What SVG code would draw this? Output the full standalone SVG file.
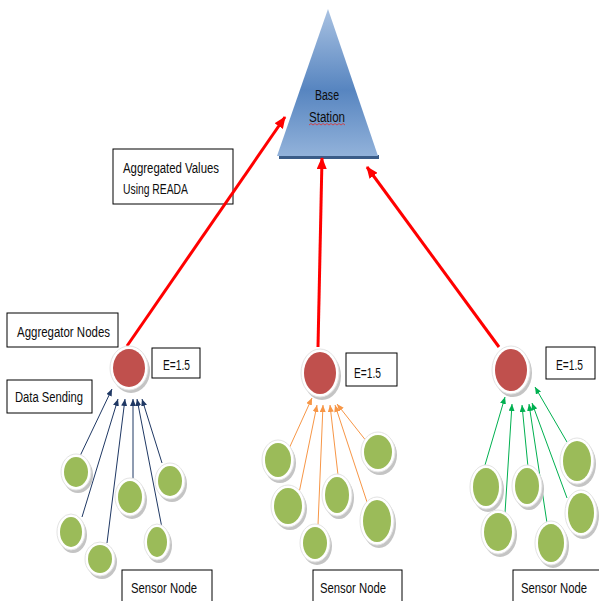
<svg xmlns="http://www.w3.org/2000/svg" width="599" height="601" viewBox="0 0 599 601">
<style>
.lbl{font-family:"Liberation Sans",Arial,sans-serif;font-size:14px;fill:#0d0d0d}
.box{fill:#fff;stroke:#000;stroke-width:1}
.red{stroke:#ff0000;stroke-width:3;fill:none}
.sh{fill:#c4c4c4}
.rim{fill:#fff;stroke:#e3e3e3;stroke-width:1}
.grn{fill:#9bbb59}
.agg{fill:#c0504d}
.navy{stroke:#1f3864;stroke-width:1;fill:none}
.org{stroke:#f79646;stroke-width:1;fill:none}
.gr{stroke:#00b050;stroke-width:1;fill:none}
</style>
<defs>
<linearGradient id="tri" x1="0" y1="0" x2="0" y2="1">
<stop offset="0" stop-color="#a9c2e2"/>
<stop offset="0.55" stop-color="#5785c0"/>
<stop offset="1" stop-color="#92b2da"/>
</linearGradient>
<marker id="mr" markerUnits="userSpaceOnUse" markerWidth="12" markerHeight="10" refX="11" refY="5" orient="auto"><path d="M0,0 L12,5 L0,10 z" fill="#ff0000"/></marker>
<marker id="mn" markerUnits="userSpaceOnUse" markerWidth="7" markerHeight="6" refX="7" refY="3" orient="auto"><path d="M0,0 L7,3 L0,6 z" fill="#1f3864"/></marker>
<marker id="mo" markerUnits="userSpaceOnUse" markerWidth="7" markerHeight="6" refX="7" refY="3" orient="auto"><path d="M0,0 L7,3 L0,6 z" fill="#f79646"/></marker>
<marker id="mg" markerUnits="userSpaceOnUse" markerWidth="7" markerHeight="6" refX="7" refY="3" orient="auto"><path d="M0,0 L7,3 L0,6 z" fill="#00b050"/></marker>
</defs>
<rect width="599" height="601" fill="#fff"/>

<g id="base-station">
<rect x="279" y="155" width="100" height="4" fill="#3a5c88"/>
<polygon points="328,9 277,156 378,156" fill="url(#tri)"/>
<text class="lbl" x="327" y="100" text-anchor="middle" textLength="24" lengthAdjust="spacingAndGlyphs">Base</text>
<text class="lbl" x="327" y="122" text-anchor="middle" textLength="36" lengthAdjust="spacingAndGlyphs">Station</text>
<path d="M309,125 l2,-1.5 l2,1.5 l2,-1.5 l2,1.5 l2,-1.5 l2,1.5 l2,-1.5 l2,1.5 l2,-1.5 l2,1.5 l2,-1.5 l2,1.5 l2,-1.5 l2,1.5 l2,-1.5 l2,1.5 l2,-1.5 l2,1.5" stroke="#e03030" stroke-width="0.8" fill="none"/>
</g>

<g id="label-aggregated-values">
<rect class="box" x="113" y="149" width="120" height="55"/>
<text class="lbl" x="123" y="173" textLength="96" lengthAdjust="spacingAndGlyphs">Aggregated Values</text>
<text class="lbl" x="123" y="194" textLength="65" lengthAdjust="spacingAndGlyphs">Using READA</text>
</g>

<g id="label-aggregator-nodes">
<rect class="box" x="7" y="313" width="111" height="34"/>
<text class="lbl" x="17" y="337" textLength="93" lengthAdjust="spacingAndGlyphs">Aggregator Nodes</text>
</g>
<g id="label-data-sending">
<rect class="box" x="7" y="380" width="85" height="33"/>
<text class="lbl" x="15" y="402" textLength="68" lengthAdjust="spacingAndGlyphs">Data Sending</text>
</g>

<g id="connectors">
<line class="red" x1="127" y1="346" x2="285" y2="117" marker-end="url(#mr)"/>
<line class="red" x1="318" y1="347" x2="322" y2="158" marker-end="url(#mr)"/>
<line class="red" x1="499" y1="347" x2="367" y2="167" marker-end="url(#mr)"/>

<line class="navy" x1="80" y1="456" x2="112" y2="389" marker-end="url(#mn)"/>
<line class="navy" x1="82" y1="517" x2="118" y2="399" marker-end="url(#mn)"/>
<line class="navy" x1="107" y1="543" x2="125" y2="399" marker-end="url(#mn)"/>
<line class="navy" x1="133" y1="482" x2="133" y2="399" marker-end="url(#mn)"/>
<line class="navy" x1="162" y1="528" x2="137" y2="399" marker-end="url(#mn)"/>
<line class="navy" x1="162" y1="463" x2="142" y2="399" marker-end="url(#mn)"/>

<line class="org" x1="287" y1="453" x2="312" y2="398" marker-end="url(#mo)"/>
<line class="org" x1="298" y1="498" x2="317" y2="405" marker-end="url(#mo)"/>
<line class="org" x1="318" y1="525" x2="323" y2="405" marker-end="url(#mo)"/>
<line class="org" x1="338" y1="475" x2="330" y2="405" marker-end="url(#mo)"/>
<line class="org" x1="367" y1="502" x2="335" y2="405" marker-end="url(#mo)"/>
<line class="org" x1="367" y1="442" x2="337" y2="404" marker-end="url(#mo)"/>

<line class="gr" x1="485" y1="465" x2="505" y2="397" marker-end="url(#mg)"/>
<line class="gr" x1="505" y1="513" x2="512" y2="404" marker-end="url(#mg)"/>
<line class="gr" x1="528" y1="467" x2="522" y2="405" marker-end="url(#mg)"/>
<line class="gr" x1="547" y1="523" x2="529" y2="404" marker-end="url(#mg)"/>
<line class="gr" x1="567" y1="498" x2="532" y2="403" marker-end="url(#mg)"/>
<line class="gr" x1="567" y1="442" x2="535" y2="387" marker-end="url(#mg)"/>
</g>

<g id="aggregator-left">
<ellipse class="sh" cx="131" cy="371" rx="19" ry="22"/>
<ellipse class="rim" cx="129" cy="368" rx="19" ry="22"/>
<ellipse class="agg" cx="129" cy="368" rx="16" ry="19"/>
<rect class="box" x="152" y="348" width="48" height="30"/>
<text class="lbl" x="163" y="370" textLength="27" lengthAdjust="spacingAndGlyphs">E=1.5</text>
</g>
<g id="aggregator-middle">
<ellipse class="sh" cx="322" cy="376" rx="19" ry="24"/>
<ellipse class="rim" cx="320" cy="373" rx="19" ry="24"/>
<ellipse class="agg" cx="320" cy="373" rx="16" ry="21"/>
<rect class="box" x="346" y="353" width="51" height="33"/>
<text class="lbl" x="354" y="378" textLength="27" lengthAdjust="spacingAndGlyphs">E=1.5</text>
</g>
<g id="aggregator-right">
<ellipse class="sh" cx="513" cy="373" rx="19" ry="24"/>
<ellipse class="rim" cx="511" cy="370" rx="19" ry="24"/>
<ellipse class="agg" cx="511" cy="370" rx="16" ry="21"/>
<rect class="box" x="546" y="347" width="49" height="32"/>
<text class="lbl" x="556" y="370" textLength="27" lengthAdjust="spacingAndGlyphs">E=1.5</text>
</g>

<g id="sensors-left">
<g><ellipse class="sh" cx="78" cy="475" rx="15" ry="18"/><ellipse class="rim" cx="76" cy="472" rx="15" ry="18"/><ellipse class="grn" cx="76" cy="472" rx="12" ry="15"/></g>
<g><ellipse class="sh" cx="172" cy="484" rx="15" ry="18"/><ellipse class="rim" cx="170" cy="481" rx="15" ry="18"/><ellipse class="grn" cx="170" cy="481" rx="12" ry="15"/></g>
<g><ellipse class="sh" cx="132" cy="500" rx="15" ry="19"/><ellipse class="rim" cx="130" cy="497" rx="15" ry="19"/><ellipse class="grn" cx="130" cy="497" rx="12" ry="16"/></g>
<g><ellipse class="sh" cx="73" cy="535" rx="14" ry="18"/><ellipse class="rim" cx="71" cy="532" rx="14" ry="18"/><ellipse class="grn" cx="71" cy="532" rx="11" ry="15"/></g>
<g><ellipse class="sh" cx="102" cy="562" rx="15" ry="17"/><ellipse class="rim" cx="100" cy="559" rx="15" ry="17"/><ellipse class="grn" cx="100" cy="559" rx="12" ry="14"/></g>
<g><ellipse class="sh" cx="159" cy="545" rx="13" ry="18"/><ellipse class="rim" cx="157" cy="542" rx="13" ry="18"/><ellipse class="grn" cx="157" cy="542" rx="10" ry="15"/></g>
</g>
<g id="sensors-middle">
<g><ellipse class="sh" cx="280" cy="463" rx="16" ry="20"/><ellipse class="rim" cx="278" cy="460" rx="16" ry="20"/><ellipse class="grn" cx="278" cy="460" rx="13" ry="17"/></g>
<g><ellipse class="sh" cx="290" cy="509" rx="17" ry="21"/><ellipse class="rim" cx="288" cy="506" rx="17" ry="21"/><ellipse class="grn" cx="288" cy="506" rx="14" ry="18"/></g>
<g><ellipse class="sh" cx="317" cy="546" rx="15" ry="19"/><ellipse class="rim" cx="315" cy="543" rx="15" ry="19"/><ellipse class="grn" cx="315" cy="543" rx="12" ry="16"/></g>
<g><ellipse class="sh" cx="339" cy="498" rx="15" ry="21"/><ellipse class="rim" cx="337" cy="495" rx="15" ry="21"/><ellipse class="grn" cx="337" cy="495" rx="12" ry="18"/></g>
<g><ellipse class="sh" cx="380" cy="455" rx="17" ry="20"/><ellipse class="rim" cx="378" cy="452" rx="17" ry="20"/><ellipse class="grn" cx="378" cy="452" rx="14" ry="17"/></g>
<g><ellipse class="sh" cx="379" cy="524" rx="17" ry="24"/><ellipse class="rim" cx="377" cy="521" rx="17" ry="24"/><ellipse class="grn" cx="377" cy="521" rx="14" ry="21"/></g>
</g>
<g id="sensors-right">
<g><ellipse class="sh" cx="488" cy="490" rx="16" ry="22"/><ellipse class="rim" cx="486" cy="487" rx="16" ry="22"/><ellipse class="grn" cx="486" cy="487" rx="13" ry="19"/></g>
<g><ellipse class="sh" cx="500" cy="535" rx="17" ry="22"/><ellipse class="rim" cx="498" cy="532" rx="17" ry="22"/><ellipse class="grn" cx="498" cy="532" rx="14" ry="19"/></g>
<g><ellipse class="sh" cx="529" cy="489" rx="15" ry="21"/><ellipse class="rim" cx="527" cy="486" rx="15" ry="21"/><ellipse class="grn" cx="527" cy="486" rx="12" ry="18"/></g>
<g><ellipse class="sh" cx="553" cy="546" rx="16" ry="22"/><ellipse class="rim" cx="551" cy="543" rx="16" ry="22"/><ellipse class="grn" cx="551" cy="543" rx="13" ry="19"/></g>
<g><ellipse class="sh" cx="579" cy="464" rx="17" ry="23"/><ellipse class="rim" cx="577" cy="461" rx="17" ry="23"/><ellipse class="grn" cx="577" cy="461" rx="14" ry="20"/></g>
<g><ellipse class="sh" cx="583" cy="516" rx="16" ry="23"/><ellipse class="rim" cx="581" cy="513" rx="16" ry="23"/><ellipse class="grn" cx="581" cy="513" rx="13" ry="20"/></g>
</g>

<g id="label-sensor-left">
<rect class="box" x="122" y="570" width="90" height="40"/>
<text class="lbl" x="131" y="593" textLength="66" lengthAdjust="spacingAndGlyphs">Sensor Node</text>
</g>
<g id="label-sensor-middle">
<rect class="box" x="313" y="570" width="89" height="40"/>
<text class="lbl" x="320" y="593" textLength="66" lengthAdjust="spacingAndGlyphs">Sensor Node</text>
</g>
<g id="label-sensor-right">
<rect class="box" x="513" y="570" width="90" height="40"/>
<text class="lbl" x="521" y="593" textLength="66" lengthAdjust="spacingAndGlyphs">Sensor Node</text>
</g>
</svg>
